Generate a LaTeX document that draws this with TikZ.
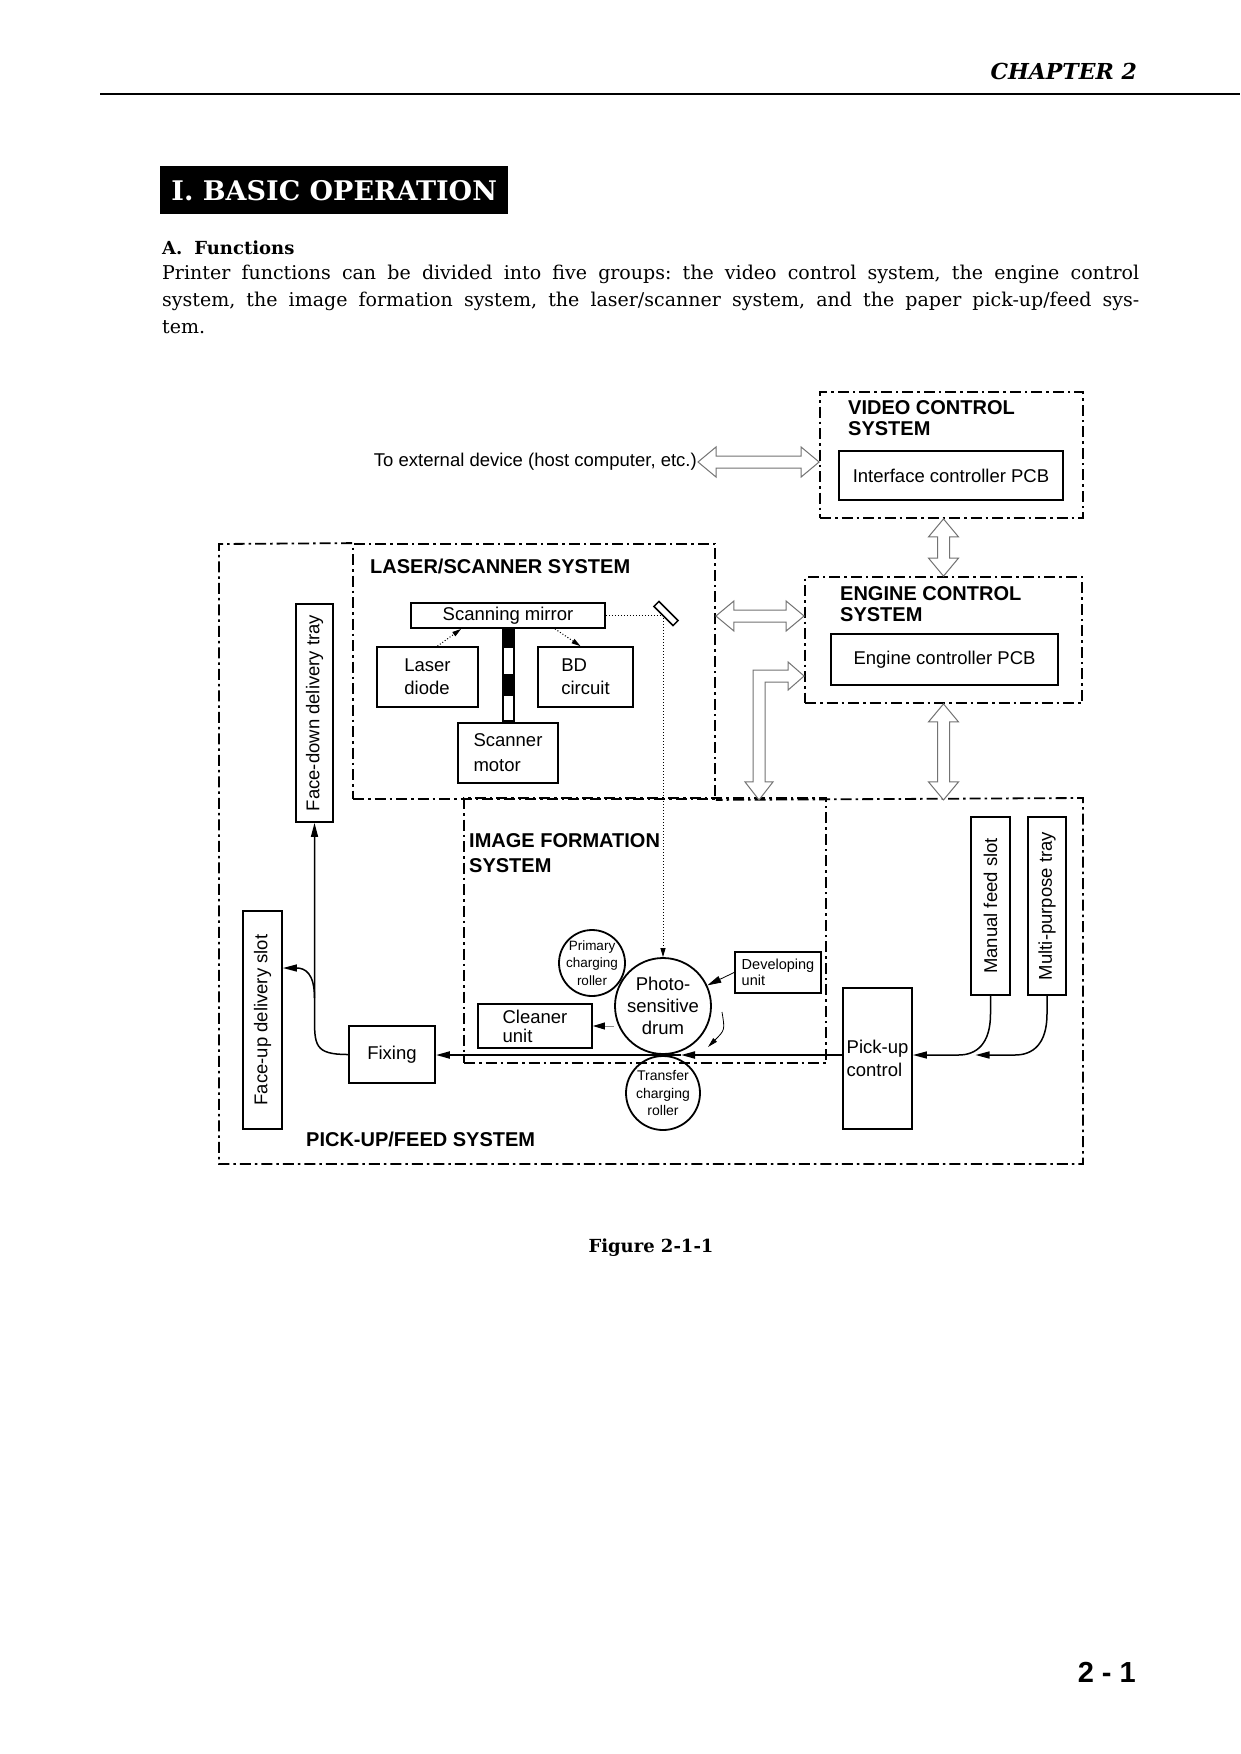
\documentclass[tikz,border=0pt]{standalone}
\usepackage{fontspec}
\setmainfont{DejaVu Serif}
\newfontfamily\diafont{Liberation Sans}
\usetikzlibrary{arrows.meta,calc,positioning}
\frenchspacing

\tikzset{
	grp/.style={draw, line width=1.8pt, dash pattern=on 11pt off 4pt on 2.5pt off 4pt},
	box/.style={draw, line width=1.8pt, inner sep=2pt, align=left, font=\diafont\fontsize{18.5}{23}\selectfont},
	roller/.style={draw, circle, line width=1.8pt, inner sep=-3pt, align=center},
	ttl/.style={anchor=north west, inner sep=0pt, align=left, font=\diafont\bfseries\fontsize{20}{21}\selectfont},
	hollow/.style={draw=black!55, line width=1pt, fill=white, line join=miter},
	arr/.style={line width=1.5pt, -{Triangle[length=14pt,width=7pt]}},
	dotarr/.style={dotted, line width=1pt, -{Triangle[length=9pt,width=5pt]}},
}

\newcommand{\hollowh}[2]{\draw[hollow] (#1) -- ++(18,-15) -- ++(0,9) -- ($(#2)+(-18,-6)$) -- ++(0,-9) -- (#2) -- ++(-18,15) -- ++(0,-9) -- ($(#1)+(18,6)$) -- ++(0,9) -- cycle;}
\newcommand{\hollowv}[2]{\draw[hollow] (#1) -- ++(-15,18) -- ++(9,0) -- ($(#2)+(-6,-18)$) -- ++(-9,0) -- (#2) -- ++(15,-18) -- ++(-9,0) -- ($(#1)+(6,18)$) -- ++(9,0) -- cycle;}

\begin{document}
\begin{tikzpicture}[x=1pt, y=-1pt]
	\fill[white] (0,0) rectangle (1240,1754);
	\useasboundingbox (0,0) rectangle (1240,1754);

	% page head
	\node[anchor=base east, inner sep=0pt, font=\bfseries\itshape\fontsize{22}{22}\selectfont] (chap) at (1137,79) {CHAPTER 2};
	\draw[line width=2.5pt] (100,94) -- (1240,94);
	\node[anchor=north west, fill=black, text=white, minimum width=348pt, minimum height=48pt, inner sep=0pt, font=\bfseries\fontsize{27}{27}\selectfont] (sect) at (160,166) {I. BASIC OPERATION};
	\node[anchor=base west, inner sep=0pt, font=\bfseries\fontsize{18}{18}\selectfont] (subsect) at (162,254) {A.\hspace{12pt}Functions};
	\node[anchor=north west, inner sep=0pt, text width=977pt, align=justify, font=\fontsize{19}{27}\selectfont] (intro) at (162,265) {\noindent Printer functions can be divided into five groups: the video control system, the engine control\linebreak system, the image formation system, the laser/scanner system, and the paper pick-up/feed sys-\linebreak tem.};

	% groups
	\node[grp, minimum width=263pt, minimum height=126pt] (vcs) at (951.5,455) {};
	\node[ttl] (vcst) at (848,400.5) {VIDEO CONTROL\\SYSTEM};
	\node[box, minimum width=224pt, minimum height=49pt, align=center] (icp) at (951,475.5) {Interface controller PCB};
	\node[anchor=east, inner sep=1pt, font=\diafont\fontsize{18.5}{22}\selectfont] (ext) at (698,462) {To external device (host computer, etc.)};

	\node[grp, minimum width=277pt, minimum height=126pt] (ecs) at (943.5,640) {};
	\node[ttl] (ecst) at (840,586.5) {ENGINE CONTROL\\SYSTEM};
	\node[box, minimum width=227pt, minimum height=51pt, align=center] (ecp) at (944.5,659.5) {Engine controller PCB};

	\node[grp, minimum width=362pt, minimum height=255pt] (lss) at (534,671.5) {};
	\node[ttl] (lsst) at (370,558.5) {LASER/SCANNER SYSTEM};
	\node[box, minimum width=194pt, minimum height=25pt, inner sep=0pt, align=center] (smr) at (508,615.5) {Scanning mirror};
	\node[box, minimum width=101pt, minimum height=60pt] (ld) at (427.5,677) {Laser\\diode};
	\node[box, minimum width=95pt, minimum height=60pt] (bd) at (585.5,677) {BD\\circuit};
	\node[box, minimum width=100pt, minimum height=60pt, font=\diafont\fontsize{18.5}{25}\selectfont] (smt) at (508,753) {Scanner\\motor};
	\fill ($(smr.south)+(-6.5,0)$) rectangle ($(smt.north)+(6.5,0)$);
	\fill[white] ($(smr.south)+(-4.5,19)$) rectangle ($(smr.south)+(4.5,45)$);
	\fill[white] ($(smr.south)+(-4.5,67)$) rectangle ($(smr.south)+(4.5,91)$);

	\node[grp, minimum width=362pt, minimum height=265pt] (ifs) at (645,930.5) {};
	\node[ttl, font=\diafont\bfseries\fontsize{20}{24.6}\selectfont] (ifst) at (469,833.5) {IMAGE FORMATION\\SYSTEM};

	\draw[grp] (lss.north west) -- (219,544) -- (219,1164) -- (1083,1164) -- (1083,798) -- (lss.south east);
	\node[ttl, anchor=base west] (pfst) at (306,1146) {PICK-UP/FEED SYSTEM};

	% parts
	\node[box, rotate=90, minimum width=218pt, minimum height=37pt, align=center] (fdt) at (314.5,713) {Face-down delivery tray};
	\node[box, rotate=90, minimum width=218pt, minimum height=39pt, align=center] (fus) at (262.5,1020) {Face-up delivery slot};
	\node[box, minimum width=86pt, minimum height=57pt, align=center] (fix) at (392,1054.5) {Fixing};
	\node[box, minimum width=114pt, minimum height=44pt, font=\diafont\fontsize{18.5}{19}\selectfont] (cln) at (535,1026) {Cleaner\\unit};
	\node[roller, minimum size=66pt, font=\diafont\fontsize{13.5}{17.5}\selectfont] (pcr) at (592,963) {Primary\\charging\\roller};
	\node[roller, minimum size=96pt, inner sep=0pt, font=\diafont\fontsize{18.5}{22}\selectfont] (drum) at (663,1006) {Photo-\\sensitive\\drum};
	\node[roller, minimum size=74pt, font=\diafont\fontsize{14}{17.5}\selectfont] (tcr) at (663,1093) {Transfer\\charging\\roller};
	\node[box, minimum width=86pt, minimum height=41pt, font=\diafont\fontsize{14.5}{16}\selectfont] (dev) at (778,972.5) {Developing\\unit};
	\node[box, minimum width=69pt, minimum height=141pt] (puc) at (877.5,1058.5) {Pick-up\\control};
	\node[box, rotate=90, minimum width=178pt, minimum height=39pt, align=center] (mfs) at (990.5,906) {Manual feed slot};
	\node[box, rotate=90, minimum width=178pt, minimum height=38pt, align=center] (mpt) at (1047,906) {Multi-purpose tray};

	% laser path
	\draw[dotarr] (smr.east) -- (drum.north |- smr.east) -- (drum.north);
	\draw[dotarr] ($(ld.north)+(10,0)$) -- ($(smr.south west)+(51,0)$);
	\draw[dotarr] ($(smr.south)+(47,0)$) -- ($(bd.north)+(-5,0)$);
	\node[draw, line width=1.5pt, fill=white, minimum width=27pt, minimum height=7pt, inner sep=0pt, rotate=-45] (mir) at ($(drum.north |- smr.east)+(3,-2)$) {};

	% paper path
	\coordinate (nip) at ($(drum.south)!0.5!(tcr.north)$);
	\draw[arr, line width=2pt] (puc.west |- nip) -- ($(nip)+(18,0)$);
	\draw[arr, line width=2pt] ($(nip)+(18,0)$) -- (fix.east |- nip);
	\draw[arr] (fix.west) .. controls +(-34,0) and +(0,30) .. (fdt.west |- 0,1015) -- (fdt.west);
	\draw[arr] (fdt.west |- 0,998) .. controls +(0,-25) and +(22,0) .. (fus.south |- 0,968);
	\draw[arr] (mfs.west) -- ++(0,18) .. controls +(0,30) and +(18,0) .. ($(mfs.west |- nip)+(-32,0)$) -- (puc.east |- nip);
	\draw[arr] (mpt.west) -- ++(0,18) .. controls +(0,30) and +(18,0) .. ($(mpt.west |- nip)+(-32,0)$) -- ($(mfs.west |- nip)+(-15,0)$);

	% drum
	\draw[line width=1pt, black!45, -{Triangle[length=12pt,width=7pt,color=black]}] (drum.west |- cln.east) -- (cln.east);
	\draw[line width=0.8pt, -{Triangle[length=14pt,width=7pt]}] (dev.west) -- (drum.25);
	\draw[line width=0.8pt, -{Triangle[length=10pt,width=5pt]}] ($(drum.center)+(59,6)$) .. controls ($(drum.center)+(62,24)$) .. ($(drum.center)+(45,41)$);

	% signal arrows
	\hollowh{ext.east}{ext.east -| vcs.west}
	\hollowv{vcs.south -| ecs.north}{ecs.north}
	\hollowh{lss.east |- 0,616}{ecs.west |- 0,616}
	\hollowv{ecs.south}{ecs.south |- lss.south}
	\coordinate (lt) at (ecs.west |- 0,676);
	\coordinate (lb) at (759,0 |- lss.south);
	\draw[hollow] (lt) -- ++(-16,-14) -- ++(0,8) -- ($(lb |- lt)+(-6,-6)$) -- ($(lb)+(-6,-18)$) -- ++(-8,0) -- (lb) -- ++(14,-18) -- ++(-8,0) -- ($(lb |- lt)+(6,6)$) -- ($(lt)+(-16,6)$) -- ++(0,8) -- cycle;

	% page foot
	\node[anchor=base, inner sep=0pt, font=\bfseries\fontsize{18}{18}\selectfont] (fig) at (651,1252) {Figure 2-1-1};
	\node[anchor=base east, inner sep=0pt, font=\diafont\bfseries\fontsize{29}{29}\selectfont] (pg) at (1136,1682) {2 - 1};
\end{tikzpicture}
\end{document}
